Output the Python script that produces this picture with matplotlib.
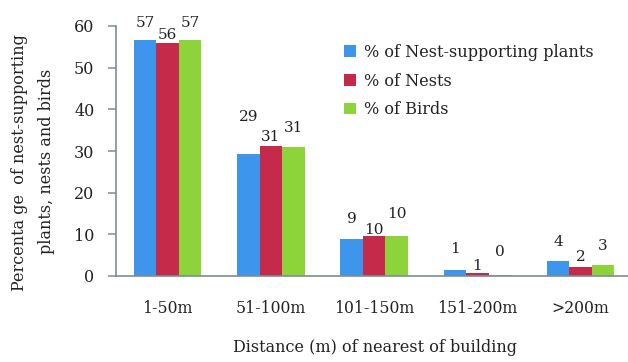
import matplotlib
matplotlib.use("Agg")
import matplotlib.pyplot as plt
import numpy as np

# Data: share (%) of nest-supporting plants, nests and birds by distance to nearest building
categories = ["1-50m", "51-100m", "101-150m", "151-200m", ">200m"]
plants = [56.7, 29.3, 8.9, 1.4, 3.7]
nests = [56.0, 31.3, 9.6, 0.7, 2.2]
birds = [56.6, 30.9, 9.6, 0.3, 2.6]
series_names = ["% of Nest-supporting plants", "% of Nests", "% of Birds"]
yticks = [0, 10, 20, 30, 40, 50, 60]

colors = ["#3d95ec", "#c52a4a", "#8dd33a"]
# vertical gap (pixels) between each bar top and the centre of its value label
label_gap_px = [
    [17, 37, 20, 21, 19],
    [8, 9, 6, 7, 10],
    [17, 19, 22, 23, 19],
]

W, H, DPI = 628, 362, 100
plt.rcParams["font.family"] = ["DejaVu Serif"]
fig = plt.figure(figsize=(W / DPI, H / DPI), dpi=DPI)
ax = fig.add_axes([116 / W, (H - 276) / H, 512 / W, 250 / H])

x = np.arange(len(categories))
bw = 0.218
axis_col = "#7d8d92"
for i, (vals, col, name) in enumerate(zip([plants, nests, birds], colors, series_names)):
    pos = x + (i - 1) * bw
    bars = ax.bar(pos, vals, width=bw, color=col, label=name, linewidth=0)
    for xp, v, gap in zip(pos, vals, label_gap_px[i]):
        ax.annotate(f"{int(v + 0.5)}", (xp, v), xytext=(0, gap * 72 / DPI),
                    textcoords="offset points", ha="center", va="center",
                    fontsize=11, color="#222222")

ax.set_xlim(-0.5, 4.46)
ax.set_ylim(0, 60)
ax.set_yticks(yticks)
ax.set_xticks(x)
ax.set_xticklabels(categories, fontsize=11.3, color="#222222")
ax.tick_params(axis="x", length=0, pad=17)
ax.tick_params(axis="y", direction="out", length=5.5, width=1.1, color=axis_col,
               labelsize=11.5, labelcolor="#222222", pad=10)
for s in ["top", "right"]:
    ax.spines[s].set_visible(False)
for s in ["left", "bottom"]:
    ax.spines[s].set_color(axis_col)
    ax.spines[s].set_linewidth(1.2)

fig.text(20 / W, 1 - 163 / H, "Percenta ge  of nest-supporting", rotation=90,
         ha="center", va="center", fontsize=11.5, color="#222222")
fig.text(47 / W, 1 - 161 / H, "plants, nests and birds", rotation=90,
         ha="center", va="center", fontsize=11.5, color="#222222")
fig.text(375 / W, 1 - 347 / H, "Distance (m) of nearest of building",
         ha="center", va="center", fontsize=11.5, color="#222222")

leg = ax.legend(loc="upper left", bbox_to_anchor=(344 / W, 1 - 44 / H),
                bbox_transform=fig.transFigure, frameon=False, fontsize=11.6,
                handlelength=0.75, handleheight=0.75, handletextpad=0.5,
                labelspacing=0.72, borderaxespad=0, borderpad=0)
for t in leg.get_texts():
    t.set_color("#222222")

fig.savefig("out.png", dpi=DPI)
